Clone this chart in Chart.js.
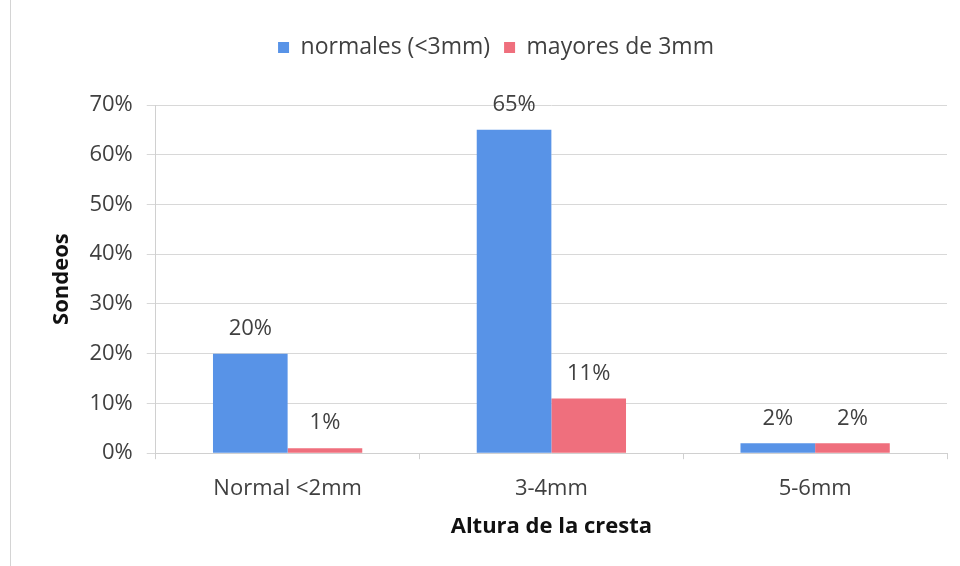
<!DOCTYPE html>
<html><head><meta charset="utf-8">
<script src="https://cdn.jsdelivr.net/npm/chart.js@4/dist/chart.umd.min.js"></script>
<style>
html,body{margin:0;padding:0;background:#fff;}
#wrap{position:absolute;left:0;top:0;width:960px;height:566px;}
#frame{position:absolute;left:10px;top:-2px;width:960px;height:580px;border-left:1px solid #d4d4d4;}
canvas{position:absolute;left:0;top:0;}
</style>
</head><body>
<div id="wrap"><div id="frame"></div><canvas id="c" width="960" height="566"></canvas></div>
<script>
const categories = ["Normal <2mm", "3-4mm", "5-6mm"];
const normales = [20, 65, 2];
const mayores = [1, 11, 2];
const seriesNames = ["normales (<3mm)", "mayores de 3mm"];
const yTicks = [0, 10, 20, 30, 40, 50, 60, 70];

const FONT = "'Open Sans', Lato, sans-serif";
const TXT = '#404040';

const labelPlugin = {
  id: 'valueLabels',
  afterDatasetsDraw(chart) {
    const ctx = chart.ctx;
    ctx.save();
    ctx.font = "22px " + FONT;
    ctx.fillStyle = TXT;
    ctx.textAlign = 'center';
    ctx.textBaseline = 'middle';
    chart.data.datasets.forEach((ds, i) => {
      chart.getDatasetMeta(i).data.forEach((bar, j) => {
        ctx.fillText(ds.data[j] + '%', bar.x, bar.y - 25);
      });
    });
    ctx.restore();
  }
};

const legendGap = {
  id: 'legendGap',
  beforeInit(chart) {
    const lg = chart.legend;
    const fit = lg.fit;
    lg.fit = function () { fit.call(lg); lg.height += 36; };
  }
};

new Chart(document.getElementById('c'), {
  type: 'bar',
  data: {
    labels: categories,
    datasets: [
      { label: seriesNames[0], data: normales, backgroundColor: '#5893e7', borderWidth: 0 },
      { label: seriesNames[1], data: mayores, backgroundColor: '#ef6f7d', borderWidth: 0 }
    ]
  },
  options: {
    responsive: false,
    animation: false,
    devicePixelRatio: 1,
    layout: { padding: { left: 45, right: 13, top: 22, bottom: 22 } },
    datasets: { bar: { categoryPercentage: 0.566, barPercentage: 1 } },
    plugins: {
      legend: {
        position: 'top',
        labels: {
          font: { family: FONT, size: 23 },
          color: TXT,
          boxWidth: 11, boxHeight: 11,
          padding: 14
        }
      },
      tooltip: { enabled: false }
    },
    scales: {
      x: {
        grid: { display: true, drawOnChartArea: false, color: '#d0d0d0', tickLength: 6 },
        border: { color: '#d0d0d0' },
        ticks: { font: { family: FONT, size: 22 }, color: TXT, padding: 16 },
        title: { display: true, text: 'Altura de la cresta', font: { family: FONT, size: 22, weight: 'bold' }, color: '#111', padding: { top: -4, bottom: 4 } }
      },
      y: {
        min: 0, max: 70,
        afterBuildTicks(axis) { axis.ticks = yTicks.map(v => ({ value: v })); },
        grid: { color: '#d8d8d8', tickLength: 9 },
        border: { color: '#d0d0d0' },
        ticks: { font: { family: FONT, size: 22 }, color: TXT, padding: 14, callback: v => v + '%' },
        title: { display: true, text: 'Sondeos', font: { family: FONT, size: 22, weight: 'bold' }, color: '#111', padding: { top: 4, bottom: 0 } }
      }
    }
  },
  plugins: [labelPlugin, legendGap]
});
</script>
</body></html>
